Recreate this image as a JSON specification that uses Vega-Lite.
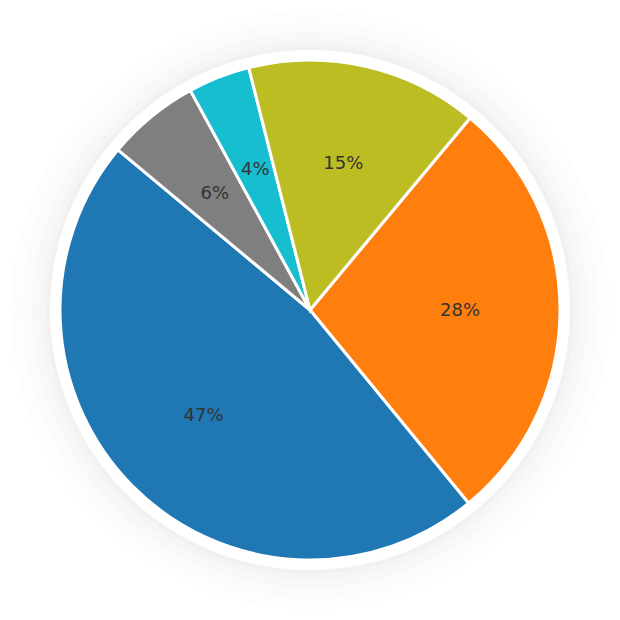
{
  "$schema": "https://vega.github.io/schema/vega-lite/v6.json",
  "autosize": {"type": "fit", "contains": "padding"},
  "width": 620,
  "height": 620,
  "background": "white",
  "view": {"stroke": null},
  "config": {"font": "DejaVu Sans"},
  "datasets": {
    "slices": [
      {"cat": "B", "value": 28, "label": "28%", "ord": 1},
      {"cat": "A", "value": 47, "label": "47%", "ord": 2},
      {"cat": "E", "value": 6, "label": "6%", "ord": 3},
      {"cat": "D", "value": 4, "label": "4%", "ord": 4},
      {"cat": "C", "value": 15, "label": "15%", "ord": 5}
    ],
    "one": [{"k": 1}]
  },
  "layer": [
    {"data": {"name": "one"}, "mark": {"type": "arc", "theta": 0, "theta2": 6.2832, "radius": 300, "fill": "#000", "fillOpacity": 0.006}, "encoding": {}},
    {"data": {"name": "one"}, "mark": {"type": "arc", "theta": 0, "theta2": 6.2832, "radius": 288, "fill": "#000", "fillOpacity": 0.008}, "encoding": {}},
    {"data": {"name": "one"}, "mark": {"type": "arc", "theta": 0, "theta2": 6.2832, "radius": 278, "fill": "#000", "fillOpacity": 0.01}, "encoding": {}},
    {"data": {"name": "one"}, "mark": {"type": "arc", "theta": 0, "theta2": 6.2832, "radius": 270, "fill": "#000", "fillOpacity": 0.012}, "encoding": {}},
    {"data": {"name": "one"}, "mark": {"type": "arc", "theta": 0, "theta2": 6.2832, "radius": 264, "fill": "#000", "fillOpacity": 0.015}, "encoding": {}},
    {"data": {"name": "one"}, "mark": {"type": "arc", "theta": 0, "theta2": 6.2832, "radius": 260, "fill": "white"}, "encoding": {}},
    {
      "data": {"name": "slices"},
      "mark": {"type": "arc", "outerRadius": 250, "stroke": "white", "strokeWidth": 3},
      "encoding": {
        "theta": {"field": "value", "type": "quantitative", "stack": true, "scale": {"domain": [0, 100], "range": [0.695, 6.9782]}},
        "order": {"field": "ord", "type": "quantitative"},
        "color": {"field": "cat", "type": "nominal", "legend": null,
          "scale": {"domain": ["A", "B", "C", "D", "E"], "range": ["#1f77b4", "#ff7f0e", "#bcbd22", "#17becf", "#7f7f7f"]}}
      }
    },
    {
      "data": {"name": "slices"},
      "mark": {"type": "text", "radius": 150, "fontSize": 18, "fill": "#333333"},
      "encoding": {
        "theta": {"field": "value", "type": "quantitative", "stack": true, "scale": {"domain": [0, 100], "range": [0.695, 6.9782]}},
        "order": {"field": "ord", "type": "quantitative"},
        "text": {"field": "label"}
      }
    }
  ]
}
